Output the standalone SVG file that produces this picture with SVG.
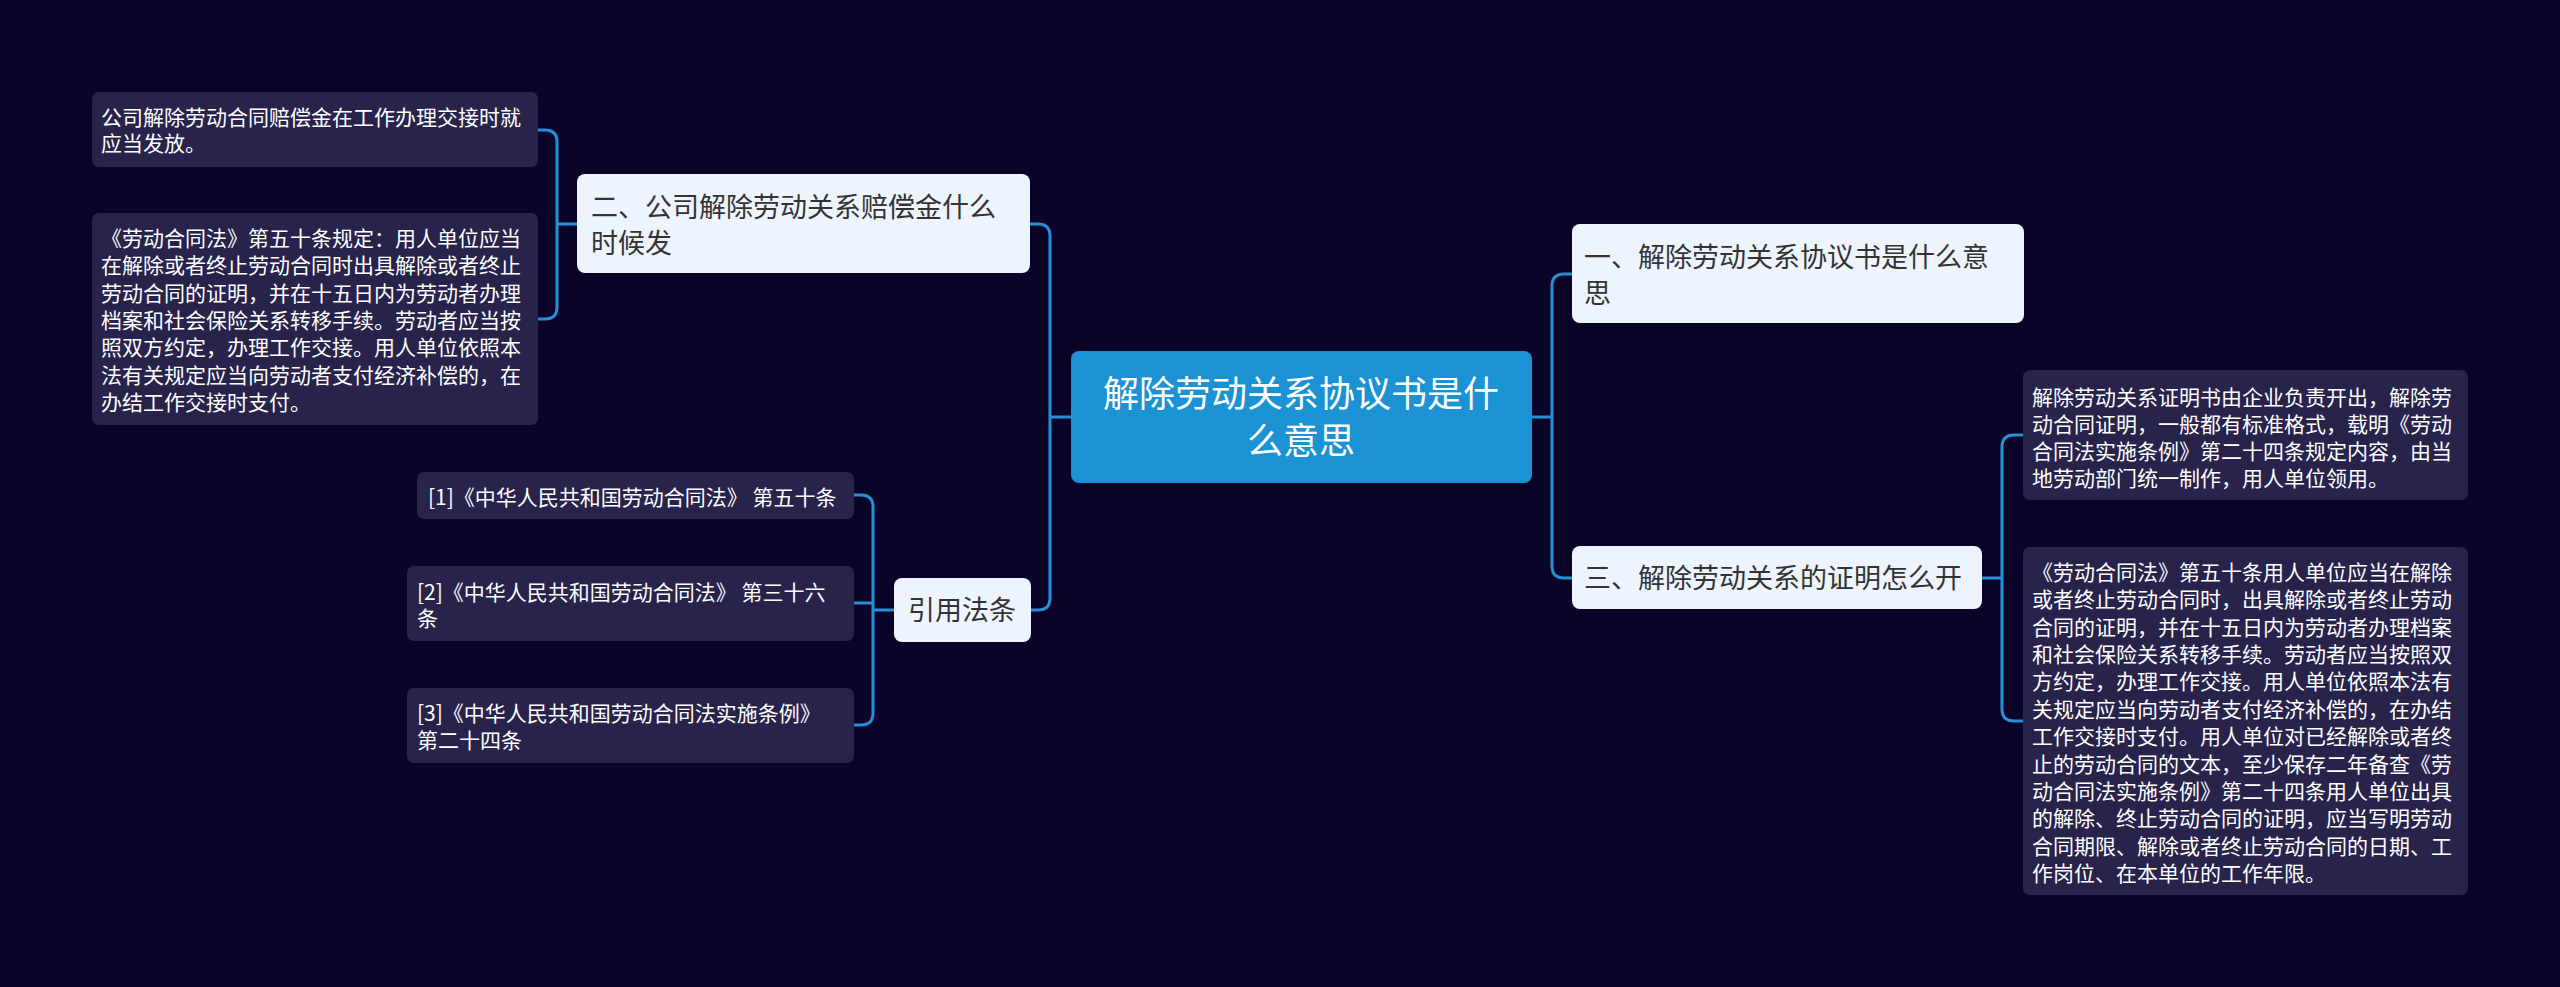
<svg xmlns="http://www.w3.org/2000/svg" width="2560" height="987" viewBox="0 0 2560 987">
<style>
text{font-family:"Noto Sans CJK SC","Noto Sans",sans-serif}
.leaf rect{fill:#27234b}
.leaf text{fill:#ffffff;font-size:21px}
.l1 rect{fill:#eef4fd}
.l1 text{fill:#333333;font-size:27px}
.root rect{fill:#1b92d3}
.root text{fill:#ffffff;font-size:36px;text-anchor:middle}
.conn path{fill:none;stroke:#2590d6;stroke-width:3}
</style>
<rect width="2560" height="987" fill="#0a0528"/>
<g class="conn" id="connectors">
<path d="M1030,224 H1038 Q1050,224 1050,236 V598 Q1050,610 1038,610 H1031"/>
<path d="M1050,417 H1071"/>
<path d="M1573,274 H1564 Q1552,274 1552,286 V566 Q1552,578 1564,578 H1572"/>
<path d="M1532,417 H1552"/>
<path d="M538,130 H545 Q557,130 557,142 V307 Q557,319 545,319 H538"/>
<path d="M557,224 H577"/>
<path d="M2023,435 H2014 Q2002,435 2002,447 V709 Q2002,721 2014,721 H2023"/>
<path d="M1982,578 H2002"/>
<path d="M854,495 H861 Q873,495 873,507 V713 Q873,725 861,725 H854"/>
<path d="M873,603 H854"/>
<path d="M894,610 H873"/>
</g>
<g class="root" id="root">
<rect x="1071" y="351" width="461" height="132" rx="8"/>
<text x="1301" y="407">解除劳动关系协议书是什</text>
<text x="1301" y="454">么意思</text>
</g>
<g class="l1" id="n2">
<rect x="577" y="174" width="453" height="99" rx="8"/>
<text x="591" y="217">二、公司解除劳动关系赔偿金什么</text>
<text x="591" y="253">时候发</text>
</g>
<g class="l1" id="n1">
<rect x="1572" y="224" width="452" height="99" rx="8"/>
<text x="1584" y="267">一、解除劳动关系协议书是什么意</text>
<text x="1584" y="303">思</text>
</g>
<g class="l1" id="n3">
<rect x="1572" y="546" width="410" height="63" rx="8"/>
<text x="1584" y="588">三、解除劳动关系的证明怎么开</text>
</g>
<g class="l1" id="n4">
<rect x="894" y="578" width="137" height="64" rx="8"/>
<text x="962" y="620" text-anchor="middle">引用法条</text>
</g>
<g class="leaf" id="n2a">
<rect x="92" y="92" width="446" height="75" rx="7"/>
<text x="101" y="125">公司解除劳动合同赔偿金在工作办理交接时就</text>
<text x="101" y="151">应当发放。</text>
</g>
<g class="leaf" id="n2b">
<rect x="92" y="213" width="446" height="212" rx="7"/>
<text x="101" y="246">《劳动合同法》第五十条规定：用人单位应当</text>
<text x="101" y="273.3">在解除或者终止劳动合同时出具解除或者终止</text>
<text x="101" y="300.7">劳动合同的证明，并在十五日内为劳动者办理</text>
<text x="101" y="328">档案和社会保险关系转移手续。劳动者应当按</text>
<text x="101" y="355.3">照双方约定，办理工作交接。用人单位依照本</text>
<text x="101" y="382.7">法有关规定应当向劳动者支付经济补偿的，在</text>
<text x="101" y="410">办结工作交接时支付。</text>
</g>
<g class="leaf" id="n1a">
<rect x="2023" y="370" width="445" height="130" rx="7"/>
<text x="2032" y="405">解除劳动关系证明书由企业负责开出，解除劳</text>
<text x="2032" y="432">动合同证明，一般都有标准格式，载明《劳动</text>
<text x="2032" y="459">合同法实施条例》第二十四条规定内容，由当</text>
<text x="2032" y="486">地劳动部门统一制作，用人单位领用。</text>
</g>
<g class="leaf" id="n3a">
<rect x="2023" y="547" width="445" height="348" rx="7"/>
<text x="2032" y="580">《劳动合同法》第五十条用人单位应当在解除</text>
<text x="2032" y="607.4">或者终止劳动合同时，出具解除或者终止劳动</text>
<text x="2032" y="634.7">合同的证明，并在十五日内为劳动者办理档案</text>
<text x="2032" y="662.1">和社会保险关系转移手续。劳动者应当按照双</text>
<text x="2032" y="689.4">方约定，办理工作交接。用人单位依照本法有</text>
<text x="2032" y="716.8">关规定应当向劳动者支付经济补偿的，在办结</text>
<text x="2032" y="744.2">工作交接时支付。用人单位对已经解除或者终</text>
<text x="2032" y="771.5">止的劳动合同的文本，至少保存二年备查《劳</text>
<text x="2032" y="798.9">动合同法实施条例》第二十四条用人单位出具</text>
<text x="2032" y="826.2">的解除、终止劳动合同的证明，应当写明劳动</text>
<text x="2032" y="853.6">合同期限、解除或者终止劳动合同的日期、工</text>
<text x="2032" y="881">作岗位、在本单位的工作年限。</text>
</g>
<g class="leaf" id="n4a">
<rect x="417" y="472" width="437" height="47" rx="7"/>
<text x="428" y="505">[1]《中华人民共和国劳动合同法》 第五十条</text>
</g>
<g class="leaf" id="n4b">
<rect x="407" y="566" width="447" height="75" rx="7"/>
<text x="417" y="600">[2]《中华人民共和国劳动合同法》 第三十六</text>
<text x="417" y="626">条</text>
</g>
<g class="leaf" id="n4c">
<rect x="407" y="688" width="447" height="75" rx="7"/>
<text x="417" y="721">[3]《中华人民共和国劳动合同法实施条例》</text>
<text x="417" y="748">第二十四条</text>
</g>
</svg>
